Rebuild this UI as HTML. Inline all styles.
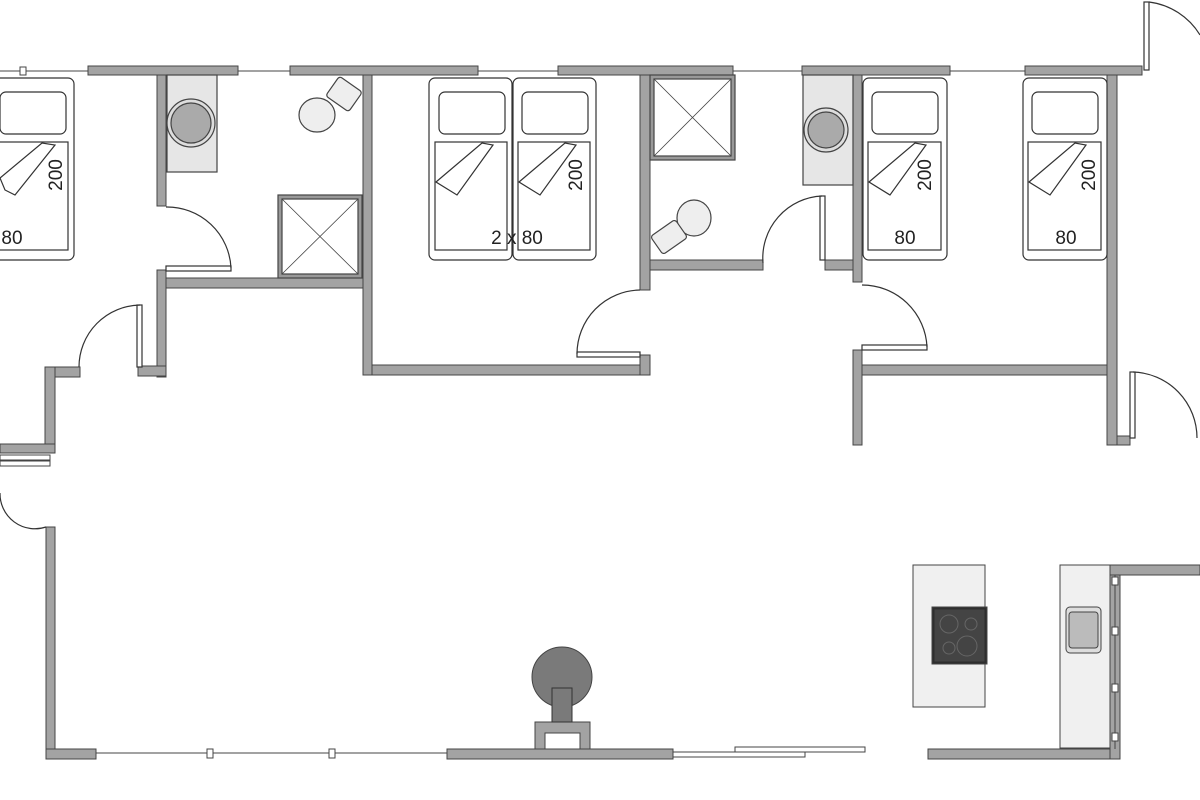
<!DOCTYPE html>
<html><head><meta charset="utf-8"><style>html,body{margin:0;padding:0;background:#fff}svg{display:block}</style></head><body>
<svg width="1200" height="800" viewBox="0 0 1200 800" xmlns="http://www.w3.org/2000/svg" font-family="Liberation Sans, sans-serif">
<g fill="#a3a3a3" stroke="#444" stroke-width="1">
<!-- top walls -->
<rect x="88" y="66" width="150" height="9"/>
<rect x="290" y="66" width="188" height="9"/>
<rect x="558" y="66" width="175" height="9"/>
<rect x="802" y="66" width="148" height="9"/>
<rect x="1025" y="66" width="117" height="9"/>
<!-- bath1 -->
<rect x="157" y="75" width="9" height="131"/>
<rect x="157" y="270" width="9" height="107"/>
<rect x="166" y="278" width="206" height="10"/>
<rect x="363" y="75" width="9" height="300"/>
<rect x="138" y="366" width="28" height="10"/>
<rect x="372" y="365" width="278" height="10"/>
<!-- left -->
<rect x="45" y="367" width="35" height="10"/>
<rect x="45" y="367" width="10" height="86"/>
<rect x="0" y="444" width="55" height="9"/>
<rect x="46" y="527" width="9" height="232"/>
<rect x="46" y="749" width="50" height="10"/>
<!-- bedroom2 / bath2 -->
<rect x="640" y="75" width="10" height="215"/>
<rect x="640" y="355" width="10" height="20"/>
<rect x="650" y="260" width="113" height="10"/>
<rect x="825" y="260" width="35" height="10"/>
<rect x="853" y="75" width="9" height="207"/>
<rect x="853" y="350" width="9" height="95"/>
<rect x="862" y="365" width="255" height="10"/>
<rect x="1107" y="75" width="10" height="370"/>
<rect x="1117" y="436" width="13" height="9"/>
<!-- bottom -->
<rect x="447" y="749" width="226" height="10"/>
<rect x="928" y="749" width="192" height="10"/>
<rect x="1110" y="565" width="10" height="194"/>
<rect x="1110" y="565" width="90" height="10"/>
<!-- fireplace base -->
<path d="M535 722 H590 V749 H580 V733 H545 V749 H535 Z"/>
</g>
<!-- windows -->
<g stroke="#444" stroke-width="1" fill="#fff">
<line x1="0" y1="71" x2="88" y2="71"/><rect x="20" y="67" width="6" height="8"/>
<line x1="238" y1="71" x2="290" y2="71"/>
<line x1="478" y1="71" x2="558" y2="71"/>
<line x1="733" y1="71" x2="802" y2="71"/>
<line x1="950" y1="71" x2="1025" y2="71"/>
<line x1="96" y1="753" x2="447" y2="753"/>
<rect x="207" y="749" width="6" height="9"/><rect x="329" y="749" width="6" height="9"/>
<line x1="1115" y1="575" x2="1115" y2="749"/>
<rect x="1112" y="577" width="6" height="8"/><rect x="1112" y="627" width="6" height="8"/><rect x="1112" y="684" width="6" height="8"/><rect x="1112" y="733" width="6" height="8"/>
<rect x="0" y="455" width="50" height="5"/><rect x="0" y="461" width="50" height="5"/>
<rect x="673" y="752" width="132" height="5"/><rect x="735" y="747" width="130" height="5"/>
</g>
<!-- doors -->
<g fill="none" stroke="#333" stroke-width="1.2">
<rect x="1144" y="2" width="5" height="68" fill="#fff"/><path d="M1149 2 A70 70 0 0 1 1200 35"/>
<rect x="166" y="266" width="65" height="5" fill="#fff"/><path d="M166 207 A64 64 0 0 1 231 268"/>
<rect x="137" y="305" width="5" height="62" fill="#fff"/><path d="M79 367 A62 62 0 0 1 140 305"/>
<path d="M0 493 A35 35 0 0 0 46 527"/>
<rect x="577" y="352" width="63" height="5" fill="#fff"/><path d="M640 290 A64 64 0 0 0 577 354"/>
<rect x="820" y="196" width="5" height="64" fill="#fff"/><path d="M763 263 A62 62 0 0 1 822 196"/>
<rect x="862" y="345" width="65" height="5" fill="#fff"/><path d="M862 285 A65 65 0 0 1 927 347"/>
<rect x="1130" y="372" width="5" height="66" fill="#fff"/><path d="M1133 372 A66 66 0 0 1 1197 438"/>
</g>
<!-- beds -->
<g fill="#fff" stroke="#333" stroke-width="1.2">
<rect x="-12" y="78" width="86" height="182" rx="6"/><rect x="0" y="92" width="66" height="42" rx="6"/><rect x="-5" y="142" width="73" height="108"/>
<rect x="429" y="78" width="83" height="182" rx="6"/><rect x="439" y="92" width="66" height="42" rx="6"/><rect x="435" y="142" width="72" height="108"/>
<rect x="513" y="78" width="83" height="182" rx="6"/><rect x="522" y="92" width="66" height="42" rx="6"/><rect x="518" y="142" width="72" height="108"/>
<rect x="863" y="78" width="84" height="182" rx="6"/><rect x="872" y="92" width="66" height="42" rx="6"/><rect x="868" y="142" width="73" height="108"/>
<rect x="1023" y="78" width="84" height="182" rx="6"/><rect x="1032" y="92" width="66" height="42" rx="6"/><rect x="1028" y="142" width="73" height="108"/>
<path d="M0 178 L42 143 L55 145 L15 195 L5 190 Z"/>
<path d="M436 182 L482 143 L493 145 L457 195 Z"/>
<path d="M519 182 L565 143 L576 145 L540 195 Z"/>
<path d="M869 182 L915 143 L926 145 L890 195 Z"/>
<path d="M1029 182 L1075 143 L1086 145 L1050 195 Z"/>
</g>
<g font-size="19" fill="#222">
<text x="12" y="244" text-anchor="middle">80</text>
<text x="517" y="244" text-anchor="middle">2 x 80</text>
<text x="905" y="244" text-anchor="middle">80</text>
<text x="1066" y="244" text-anchor="middle">80</text>
<text transform="translate(62,175) rotate(-90)" text-anchor="middle">200</text>
<text transform="translate(582,175) rotate(-90)" text-anchor="middle">200</text>
<text transform="translate(931,175) rotate(-90)" text-anchor="middle">200</text>
<text transform="translate(1095,175) rotate(-90)" text-anchor="middle">200</text>
</g>
<!-- bathrooms -->
<g stroke="#444" stroke-width="1.2">
<rect x="167" y="75" width="50" height="97" fill="#e6e6e6"/>
<circle cx="191" cy="123" r="24" fill="#ddd"/><circle cx="191" cy="123" r="20" fill="#aaa"/>
<rect x="803" y="75" width="50" height="110" fill="#e6e6e6"/>
<circle cx="826" cy="130" r="22" fill="#ddd"/><circle cx="826" cy="130" r="18" fill="#aaa"/>
<rect x="278" y="195" width="84" height="83" fill="#999"/><rect x="282" y="199" width="76" height="75" fill="#fff"/>
<path d="M282 199 L358 274 M358 199 L282 274" stroke-width="0.8"/>
<rect x="650" y="75" width="85" height="85" fill="#999"/><rect x="654" y="79" width="77" height="77" fill="#fff"/>
<path d="M654 79 L731 156 M731 79 L654 156" stroke-width="0.8"/>
<ellipse cx="317" cy="115" rx="18" ry="17" fill="#eee"/>
<rect x="330" y="82" width="28" height="24" rx="3" fill="#eee" transform="rotate(35 344 94)"/>
<ellipse cx="694" cy="218" rx="17" ry="18" fill="#eee"/>
<rect x="654" y="226" width="30" height="22" rx="3" fill="#eee" transform="rotate(-35 669 237)"/>
</g>
<!-- kitchen -->
<g stroke="#444" stroke-width="1">
<rect x="913" y="565" width="72" height="142" fill="#f0f0f0"/>
<rect x="932" y="607" width="55" height="57" fill="#2e2e2e"/>
<rect x="935" y="610" width="49" height="51" fill="#444"/>
<rect x="1060" y="565" width="50" height="183" fill="#f0f0f0"/>
<rect x="1066" y="607" width="35" height="46" rx="4" fill="#ddd"/>
<rect x="1069" y="612" width="29" height="36" rx="3" fill="#bbb"/>
</g>
<g stroke="#666" fill="none" stroke-width="1"><circle cx="949" cy="624" r="9"/><circle cx="971" cy="624" r="6"/><circle cx="949" cy="648" r="6"/><circle cx="967" cy="646" r="10"/></g>
<!-- fireplace -->
<circle cx="562" cy="677" r="30" fill="#7a7a7a" stroke="#444"/>
<rect x="552" y="688" width="20" height="34" fill="#7a7a7a" stroke="#333"/>
</svg>
</body></html>
